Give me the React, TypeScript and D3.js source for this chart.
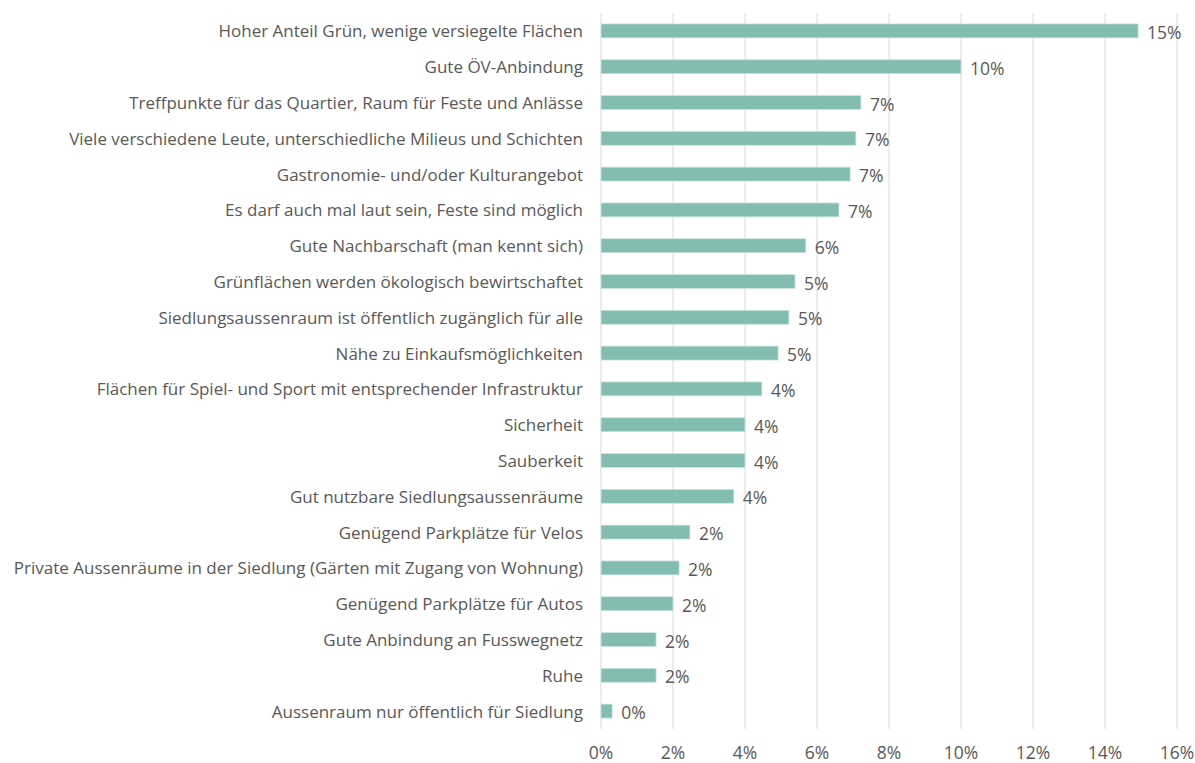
import React from "react";
import * as d3 from "d3";

const categories = [
  "Hoher Anteil Grün, wenige versiegelte Flächen",
  "Gute ÖV-Anbindung",
  "Treffpunkte für das Quartier, Raum für Feste und Anlässe",
  "Viele verschiedene Leute, unterschiedliche Milieus und Schichten",
  "Gastronomie- und/oder Kulturangebot",
  "Es darf auch mal laut sein, Feste sind möglich",
  "Gute Nachbarschaft (man kennt sich)",
  "Grünflächen werden ökologisch bewirtschaftet",
  "Siedlungsaussenraum ist öffentlich zugänglich für alle",
  "Nähe zu Einkaufsmöglichkeiten",
  "Flächen für Spiel- und Sport mit entsprechender Infrastruktur",
  "Sicherheit",
  "Sauberkeit",
  "Gut nutzbare Siedlungsaussenräume",
  "Genügend Parkplätze für Velos",
  "Private Aussenräume in der Siedlung (Gärten mit Zugang von Wohnung)",
  "Genügend Parkplätze für Autos",
  "Gute Anbindung an Fusswegnetz",
  "Ruhe",
  "Aussenraum nur öffentlich für Siedlung",
];

const values = [
  0.1492, 0.1, 0.0722, 0.0708, 0.0692, 0.0661, 0.0569, 0.0539, 0.0522, 0.0492,
  0.0447, 0.04, 0.04, 0.0369, 0.0247, 0.0217, 0.02, 0.0153, 0.0153, 0.0031,
];

const xTicks = [0, 0.02, 0.04, 0.06, 0.08, 0.1, 0.12, 0.14, 0.16];

const W = 1195;
const H = 763;
const FONT = "'Open Sans', 'Segoe UI', sans-serif";
const TEXT = "#595959";

export default function App() {
  const left = 601;
  const right = 1177;
  const top = 13;
  const bottom = 729;

  const x = d3.scaleLinear().domain([0, 0.16]).range([left, right]);
  const y = d3
    .scaleBand<string>()
    .domain(categories)
    .range([top, bottom])
    .paddingInner(0.61)
    .paddingOuter(0.305);

  const fmt = d3.format(".0%");

  return (
    <svg
      width={W}
      height={H}
      style={{ position: "absolute", left: 0, top: 0, background: "#fff" }}
      fontFamily={FONT}
    >
      {xTicks.map((t) => (
        <line
          key={"g" + t}
          x1={x(t)}
          x2={x(t)}
          y1={top}
          y2={bottom}
          stroke="#d9d9d9"
          strokeWidth={1}
        />
      ))}
      {categories.map((c, i) => (
        <g key={c}>
          <rect
            x={x(0)}
            y={y(c)!}
            width={x(values[i]) - x(0)}
            height={y.bandwidth()}
            fill="#83BDB1"
            stroke="#cfe6e0"
            strokeWidth={0.75}
          />
          <text
            x={left - 18}
            y={y(c)! + y.bandwidth() / 2}
            textAnchor="end"
            dominantBaseline="central"
            fontSize={17}
            fill={TEXT}
          >
            {c}
          </text>
          <text
            x={x(values[i]) + 9}
            y={y(c)! + y.bandwidth() / 2 + 1}
            dominantBaseline="central"
            fontSize={17.5}
            fill={TEXT}
          >
            {fmt(values[i])}
          </text>
        </g>
      ))}
      {xTicks.map((t) => (
        <text
          key={"t" + t}
          x={x(t)}
          y={752}
          textAnchor="middle"
          dominantBaseline="central"
          fontSize={17.5}
          fill={TEXT}
        >
          {fmt(t)}
        </text>
      ))}
    </svg>
  );
}
